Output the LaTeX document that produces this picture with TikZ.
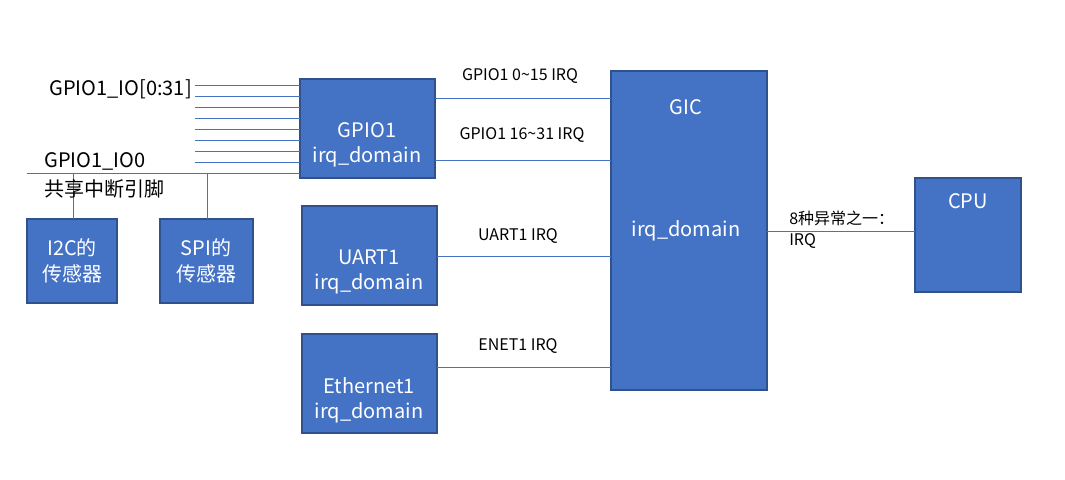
\documentclass[tikz,border=0pt]{standalone}
\usepackage{fontspec}
\setmainfont{Noto Sans CJK SC}
\begin{document}
\begin{tikzpicture}[x=0.75pt,y=-0.75pt,
  box/.style={draw=boxline,fill=boxfill,text=white,line width=0.8pt,font=\fontsize{15}{19}\selectfont,align=center},
  wire/.style={draw=boxfill,line width=0.6pt},
  lbl/.style={font=\fontsize{12}{14}\selectfont,inner sep=0pt}]
\definecolor{boxfill}{HTML}{4472C4}
\definecolor{boxline}{HTML}{2F528F}
\useasboundingbox (0,0) rectangle (1065,479);
\path[box] (300,79) rectangle (435,178);
\node[box,draw=none,fill=none] (gpio) at (367,145) {GPIO1\\irq\_domain};
\path[box] (302,206) rectangle (437,305);
\node[box,draw=none,fill=none] (uart) at (369,272) {UART1\\irq\_domain};
\path[box] (302,334) rectangle (437,433);
\node[box,draw=none,fill=none] (enet) at (369,400) {Ethernet1\\irq\_domain};
\path[box] (27,219) rectangle (117,303);
\node[box,draw=none,fill=none] (i2c) at (72,261) {I2C的\\传感器};
\path[box] (160,219) rectangle (253,303);
\node[box,draw=none,fill=none] (spi) at (206,261) {SPI的\\传感器};
\path[box] (611,71) rectangle (767,390);
\node[box,draw=none,fill=none] (gic) at (686,107) {GIC};
\node[box,draw=none,fill=none] (gicd) at (686,231) {irq\_domain};
\path[box] (915,178) rectangle (1021,292);
\node[box,draw=none,fill=none] (cpu) at (968,201) {CPU};
\foreach \y in {85,96,107,118,129,140,151,162} \draw[wire] (195,\y) -- (300,\y);
\coordinate (l0) at (27,173);
\draw[wire] (l0) -- (300,173);
\draw[wire] (73,173) -- (73,219);
\draw[wire] (207,173) -- (207,219);
\draw[wire] (435,98) -- (611,98);
\draw[wire] (435,160) -- (611,160);
\draw[wire] (437,256) -- (611,256);
\draw[wire] (437,367) -- (611,367);
\draw[wire] (767,231) -- (915,231);
\node[lbl,anchor=center] (t1) at (520,76) {GPIO1 0\textasciitilde15 IRQ};
\node[lbl,anchor=center] (t2) at (522,135) {GPIO1 16\textasciitilde31 IRQ};
\node[lbl,anchor=center] (t3) at (518,236) {UART1 IRQ};
\node[lbl,anchor=center] (t4) at (518,346) {ENET1 IRQ};
\node[lbl,anchor=west] (t5) at (789,218) {8种异常之一：};
\node[lbl,anchor=west] (t6) at (789,241) {IRQ};
\node[lbl,anchor=west,font=\fontsize{15}{18}\selectfont] (t7) at (49,89) {GPIO1\_IO[0:31]};
\node[lbl,anchor=west,font=\fontsize{15}{18}\selectfont] (t8) at (44,161) {GPIO1\_IO0};
\node[lbl,anchor=west,font=\fontsize{15}{18}\selectfont] (t9) at (44,189) {共享中断引脚};
\end{tikzpicture}
\end{document}
